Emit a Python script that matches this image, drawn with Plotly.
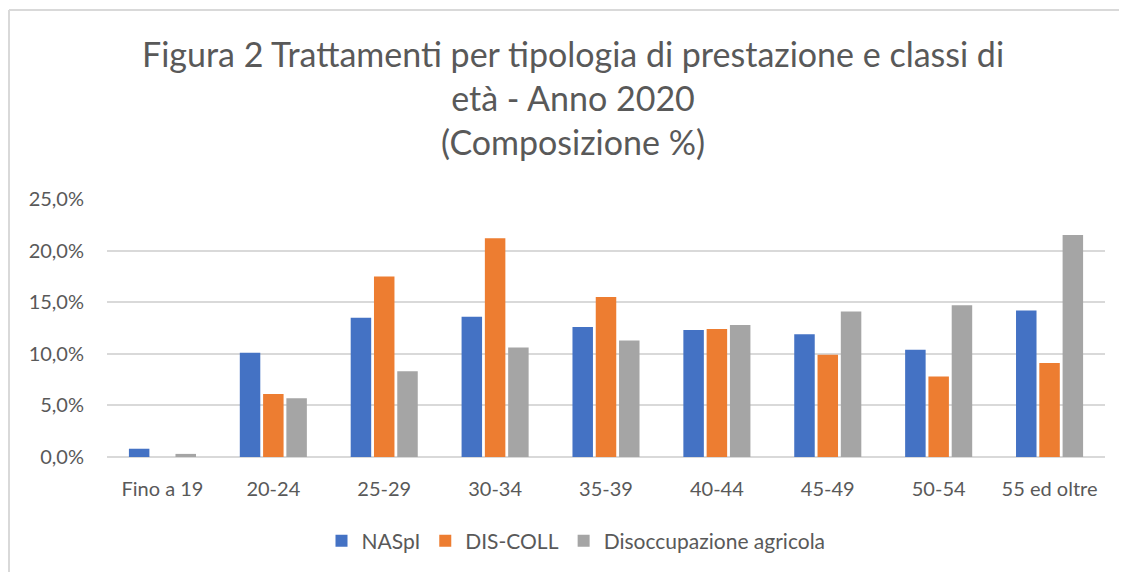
import plotly.graph_objects as go

categories = ["Fino a 19", "20-24", "25-29", "30-34", "35-39", "40-44", "45-49", "50-54", "55 ed oltre"]
naspi = [0.8, 10.1, 13.5, 13.6, 12.6, 12.3, 11.9, 10.4, 14.2]
dis_coll = [0.0, 6.1, 17.5, 21.2, 15.5, 12.4, 9.9, 7.8, 9.1]
agricola = [0.3, 5.7, 8.3, 10.6, 11.3, 12.8, 14.1, 14.7, 21.5]
series_names = ["NASpI", "DIS-COLL", "Disoccupazione agricola"]
colors = ["#4472C4", "#ED7D31", "#A5A5A5"]
y_ticks = [0, 5, 10, 15, 20, 25]
y_ticktext = [f"{v:.1f}".replace(".", ",") + "%" for v in y_ticks]
title_text = "Figura 2 Trattamenti per tipologia di prestazione e classi di<br>età - Anno 2020<br>(Composizione %)"

FONT = "Lato"
TXT = "#595959"

fig = go.Figure()
for name, vals, col in zip(series_names, [naspi, dis_coll, agricola], colors):
    fig.add_trace(go.Bar(x=categories, y=vals, name=name, marker=dict(color=col, line=dict(width=0))))

OFF = 8  # page body margin
W, H = 1127 - OFF, 572 - OFF
# plot area in reference pixels: x 107..1105, y 199..457
L, R = 107 - OFF, W - (1105 - OFF)
T, B = 199 - OFF, H - (457 - OFF)
pw, ph = W - L - R, H - T - B

def px_x(x):
    return (x - OFF - L) / pw

def px_y(y):
    return (H - B - (y - OFF)) / ph

fig.update_layout(
    width=W, height=H,
    margin=dict(l=L, r=R, t=T, b=B, autoexpand=False),
    paper_bgcolor="white", plot_bgcolor="white",
    barmode="group", bargap=0.37, bargroupgap=0.12,
    font=dict(family=FONT, color=TXT, size=20),
    xaxis=dict(
        showgrid=False, showline=False, zeroline=False,
        ticks="outside", ticklen=14, tickcolor="rgba(0,0,0,0)",
        tickangle=0, tickfont=dict(size=20, color=TXT),
    ),
    yaxis=dict(
        range=[0, 25], tickvals=y_ticks, ticktext=y_ticktext,
        showgrid=True, gridcolor="#D9D9D9", gridwidth=2,
        zeroline=True, zerolinecolor="#D9D9D9", zerolinewidth=2,
        showline=False, ticks="outside", ticklen=18, tickcolor="rgba(0,0,0,0)",
        tickfont=dict(size=20, color=TXT),
    ),
    legend=dict(
        orientation="h", x=px_x(576), xanchor="center",
        y=px_y(541), yanchor="middle",
        font=dict(size=21, color=TXT), itemwidth=30,
    ),
    showlegend=True,
)

fig.add_annotation(
    text=title_text, xref="paper", yref="paper",
    x=px_x(573), y=px_y(98), xanchor="center", yanchor="middle",
    showarrow=False, align="center",
    font=dict(family=FONT, size=34, color=TXT),
)

# chart frame: only left and top edges are visible in the reference
fig.add_shape(
    type="line", xref="paper", yref="paper",
    x0=px_x(9), y0=px_y(10), x1=px_x(1135), y1=px_y(10),
    line=dict(color="#D9D9D9", width=2), layer="below",
)
fig.add_shape(
    type="line", xref="paper", yref="paper",
    x0=px_x(9), y0=px_y(10), x1=px_x(9), y1=px_y(580),
    line=dict(color="#D9D9D9", width=2), layer="below",
)

fig.write_html("out.html")
